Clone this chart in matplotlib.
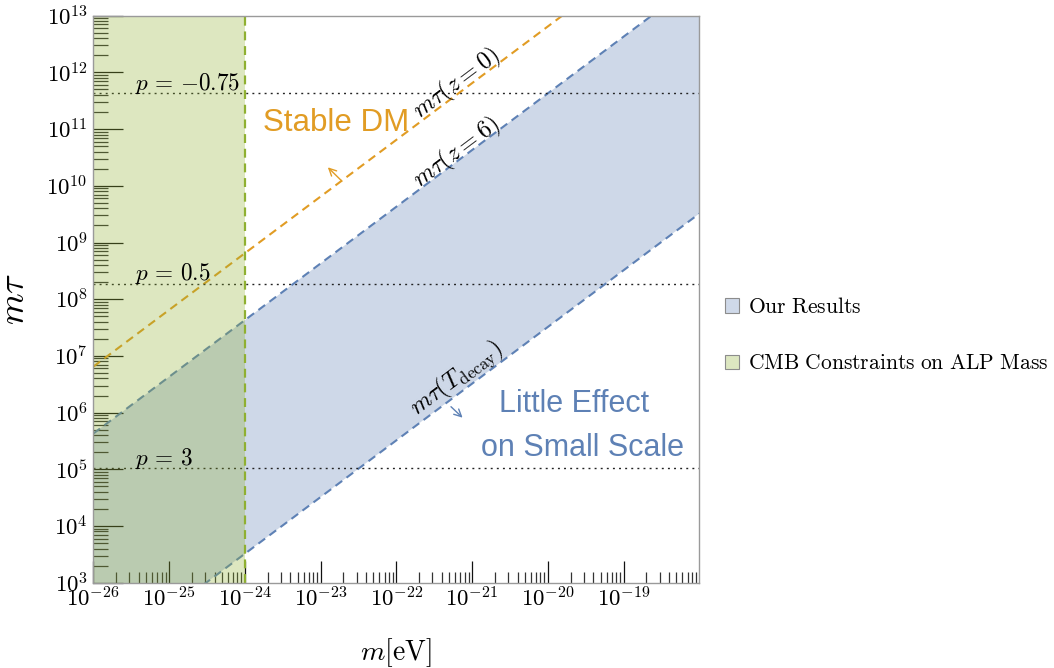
import numpy as np
import matplotlib
matplotlib.use("Agg")
import matplotlib.pyplot as plt
from matplotlib.patches import Patch
from matplotlib.ticker import FixedLocator, FuncFormatter, NullFormatter

plt.rcParams['mathtext.fontset'] = 'cm'

# ---------------- data ----------------
m_range = [1e-26, 1e-18]                 # eV
mtau_z0 = [10**6.81, 10**14.81]          # m*tau(z=0)
mtau_z6 = [10**5.63, 10**13.63]          # m*tau(z=6)
mtau_tdecay = [10**1.51, 10**9.51]       # m*tau(T_decay)
cmb_m_max = 1e-24                        # CMB constraint edge
p_values = ["-0.75", "0.5", "3"]
p_levels = [10**11.63, 10**8.27, 10**5.02]
x_major = [10.0**k for k in range(-26, -18)]
y_major = [10.0**k for k in range(3, 14)]
legend_labels = ["Our Results", "CMB Constraints on ALP Mass"]

BLUE = (0.368, 0.507, 0.710)
ORANGE = (0.881, 0.611, 0.142)
GREEN = (0.560, 0.692, 0.194)

fig = plt.figure(figsize=(10.54, 6.68), dpi=100)
W, H = 1054, 668
ax = fig.add_axes([93.3 / W, 1 - 582.7 / H, 606 / W, 567 / H])
ax.set_xscale('log')
ax.set_yscale('log')
ax.set_xlim(m_range[0], m_range[1])
ax.set_ylim(1e3, 1e13)

dash = (0, (4, 2.6))
# blue region
ax.fill_between(m_range, mtau_tdecay, mtau_z6, color=BLUE, alpha=0.3, lw=0, zorder=1)
ax.plot(m_range, mtau_z6, color=BLUE, lw=1.5, ls=dash, zorder=2)
ax.plot(m_range, mtau_tdecay, color=BLUE, lw=1.5, ls=dash, zorder=2)
ax.plot(m_range, mtau_z0, color=ORANGE, lw=1.5, ls=dash, zorder=2)

# p lines
for lab, lev in zip(p_values, p_levels):
    ax.axhline(lev, color='#222222', lw=1.0, ls=(0, (1.4, 3.0)), zorder=2.5)
    ax.text(10**-25.45, lev * 10**0.06, r'$p\,=\,{%s}$' % lab,
            fontsize=16.7, ha='left', va='baseline', zorder=5)

# green CMB region (on top)
ax.axvspan(m_range[0], cmb_m_max, color=GREEN, alpha=0.3, lw=0, zorder=3)
ax.axvline(cmb_m_max, color=GREEN, lw=1.6, ls=dash, zorder=4)

# line labels
def angle_of(xs, ys):
    p = ax.transData.transform(list(zip(xs, ys)))
    return np.degrees(np.arctan2(p[1, 1] - p[0, 1], p[1, 0] - p[0, 0]))

ang = angle_of(m_range, mtau_z0)
ax.text(10**-21.20, 10**11.795, r'$m\tau(z=0)$', fontsize=17.5, rotation=ang,
        rotation_mode='anchor', ha='center', va='center', zorder=5)
ax.text(10**-21.20, 10**10.587, r'$m\tau(z=6)$', fontsize=17.5, rotation=ang,
        rotation_mode='anchor', ha='center', va='center', zorder=5)
ax.text(10**-21.20, 10**6.605, r'$m\tau(T_{\rm decay})$', fontsize=17.5, rotation=ang,
        rotation_mode='anchor', ha='center', va='center', zorder=5)

# region labels
ax.text(10**-22.79, 10**(3 + (582.7 - 131) / 56.7), 'Stable DM', color=ORANGE,
        fontsize=22.5, family='Liberation Sans', ha='center', va='baseline', zorder=5)
ax.text(10**(-26 + (575.3 - 93.3) / 75.9), 10**(3 + (582.7 - 411.7) / 56.7), 'Little Effect',
        color=BLUE, fontsize=22, family='Liberation Sans', ha='center', va='baseline', zorder=5)
ax.text(10**(-26 + (583 - 93.3) / 75.9), 10**(3 + (582.7 - 456) / 56.7), 'on Small Scale',
        color=BLUE, fontsize=22, family='Liberation Sans', ha='center', va='baseline', zorder=5)

# arrows
ax.annotate('', xy=(10**-22.904, 10**10.326), xytext=(10**-22.72, 10**10.085),
            arrowprops=dict(arrowstyle='->', color=ORANGE, lw=1.0, shrinkA=0, shrinkB=0,
                            mutation_scale=13), zorder=5)
ax.annotate('', xy=(10**-21.125, 10**5.91), xytext=(10**-21.278, 10**6.104),
            arrowprops=dict(arrowstyle='->', color=BLUE, lw=1.0, shrinkA=0, shrinkB=0,
                            mutation_scale=13), zorder=5)

# ticks
fmt = FuncFormatter(lambda v, pos: r'$10^{%d}$' % int(round(np.log10(v))))
ax.xaxis.set_major_locator(FixedLocator(x_major))
ax.yaxis.set_major_locator(FixedLocator(y_major))
ax.xaxis.set_minor_locator(FixedLocator([k * d for d in x_major for k in range(2, 10)]))
ax.yaxis.set_minor_locator(FixedLocator([k * d for d in y_major[:-1] for k in range(2, 10)]))
ax.xaxis.set_major_formatter(fmt)
ax.yaxis.set_major_formatter(fmt)
ax.xaxis.set_minor_formatter(NullFormatter())
ax.yaxis.set_minor_formatter(NullFormatter())
ax.tick_params(axis='y', which='major', direction='in', length=21.5, width=0.9,
               color='#111111', labelsize=16.5, pad=4)
ax.tick_params(axis='y', which='minor', direction='in', length=11, width=0.9, color='#333333')
ax.tick_params(axis='x', which='major', direction='in', length=16, width=0.9,
               color='#111111', labelsize=16.5, pad=3)
ax.tick_params(axis='x', which='minor', direction='in', length=8, width=0.9, color='#333333')
ax.tick_params(top=False, right=False, which='both')
for t in ax.get_yticklabels():
    t.set_verticalalignment('center_baseline')
for s in ax.spines.values():
    s.set_color('#9a9a9a')
    s.set_linewidth(1.0)
    s.set_zorder(6)

ax.set_xlabel(r'$m[\mathrm{eV}]$', fontsize=20)
ax.set_ylabel(r'$m\tau$', fontsize=26)
ax.xaxis.set_label_coords(0.5, (582.7 - 636) / 567)
ax.yaxis.set_label_coords((31 - 93.3) / 606, 0.5)

handles = [Patch(facecolor='#cfd9e9', edgecolor='#8c8c8c', lw=0.8),
           Patch(facecolor='#dde7c1', edgecolor='#8c8c8c', lw=0.8)]
fig.legend(handles, [r'$\mathrm{%s}$' % l.replace(' ', r'\ ') for l in legend_labels],
           loc='center left', bbox_to_anchor=(725 / W, 1 - 335.2 / H), frameon=False,
           fontsize=15.5, handlelength=0.66, handleheight=0.66, handletextpad=0.42,
           labelspacing=1.7, borderpad=0, borderaxespad=0)

fig.savefig('out.png', dpi=100)
